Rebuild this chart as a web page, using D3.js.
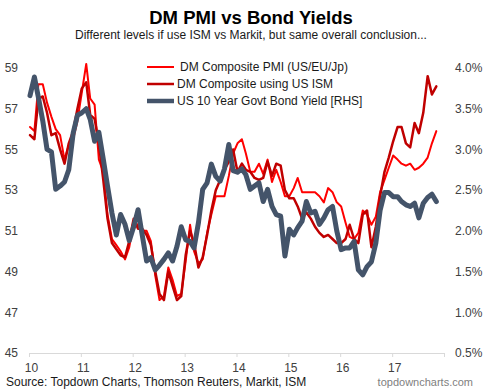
<!DOCTYPE html>
<html>
<head>
<meta charset="utf-8">
<script src="https://cdn.jsdelivr.net/npm/d3@7"></script>
<style>
	body { margin: 0; background: #fff; }
	text { font-family: "Liberation Sans", Arial, sans-serif; }
</style>
</head>
<body>
<div id="chart"></div>
<script>
const width = 490
const height = 392

// monthly data, Jan 2010 .. Nov 2017
const months = d3.timeMonths(new Date(2010, 0, 1), new Date(2017, 11, 1))
const yearLabels = ["10", "11", "12", "13", "14", "15", "16", "17"]
const leftTicks = [45, 47, 49, 51, 53, 55, 57, 59]
const rightTicks = [0.5, 1.0, 1.5, 2.0, 2.5, 3.0, 3.5, 4.0]
const seriesNames = ["DM Composite PMI (US/EU/Jp)", "DM Composite using US ISM", "US 10 Year Govt Bond Yield [RHS]"]

const pmiMarkit = [
	56.1, 55.9, 58.2, 58.2, 57.3, 56.6, 56.0, 55.7, 54.5, 55.2,
	55.5, 56.4, 57.8, 59.2, 57.5, 57.2, 54.5, 53.9, 51.8, 50.6,
	50.3, 50.0, 49.6, 50.2, 51.4, 51.3, 51.0, 51.0, 50.5, 48.8,
	47.6, 47.8, 49.2, 48.6, 47.8, 47.9, 49.5, 51.3, 50.0, 49.4,
	49.6, 50.9, 51.8, 52.7, 52.7, 52.7, 53.7, 54.8, 55.3, 55.5,
	54.8, 53.9, 53.9, 54.3, 53.8, 54.5, 53.4, 54.0, 53.4, 52.7,
	52.7, 53.1, 53.6, 52.9, 52.9, 52.9, 52.9, 52.7, 52.4, 53.1,
	52.9, 52.4, 52.2, 51.4, 50.7, 50.6, 50.9, 52.0, 51.8, 51.3,
	51.7, 52.9, 53.5, 54.1, 54.7, 54.5, 54.3, 54.2, 54.3, 54.0,
	54.1, 54.3, 54.6, 55.3, 55.9
]

const pmiIsm = [
	55.7, 55.5, 57.5, 57.6, 56.8, 55.7, 55.8, 55.0, 54.3, 55.3,
	55.9, 57.0, 58.0, 58.3, 56.7, 56.5, 55.3, 53.5, 51.6, 50.4,
	50.1, 49.8, 49.7, 50.5, 51.6, 51.1, 51.1, 50.8, 50.3, 49.0,
	47.9, 47.6, 49.0, 48.3, 47.6, 47.8, 49.8, 51.0, 50.4, 49.2,
	49.7, 50.8, 52.0, 53.0, 53.5, 54.0, 54.4, 55.0, 53.9, 54.3,
	54.0, 53.9, 53.6, 53.5, 53.6, 54.4, 53.7, 54.3, 54.2, 53.0,
	52.6, 52.6, 52.2, 51.6, 51.9, 51.6, 51.2, 50.9, 50.7, 50.8,
	50.6, 50.4, 50.4, 50.6, 51.3, 50.6, 50.4, 51.8, 52.0, 50.2,
	51.2, 52.7, 53.9, 54.6, 55.4, 56.1, 56.1, 55.3, 55.1, 56.3,
	55.8, 56.8, 58.6, 57.7, 58.1
]

const bondYield = [
	3.66, 3.89, 3.64, 3.35, 3.00, 2.97, 2.51, 2.55, 2.60, 2.75,
	3.20, 3.42, 3.45, 3.50, 3.37, 3.10, 3.21, 2.88, 2.55, 2.22,
	1.95, 2.20, 2.08, 1.88, 2.05, 2.26, 1.95, 1.63, 1.67, 1.52,
	1.58, 1.65, 1.73, 1.63, 1.81, 2.05, 1.89, 1.87, 1.79, 2.10,
	2.51, 2.59, 2.82, 2.67, 2.61, 2.76, 3.06, 2.74, 2.72, 2.76,
	2.69, 2.51, 2.55, 2.59, 2.36, 2.51, 2.30, 2.20, 2.18, 1.69,
	2.02, 1.95, 2.04, 2.12, 2.36, 2.22, 2.24, 2.08, 2.16, 2.26,
	2.30, 2.00, 1.77, 1.79, 1.79, 1.87, 1.52, 1.46, 1.56, 1.62,
	1.85, 2.25, 2.47, 2.47, 2.42, 2.42, 2.36, 2.32, 2.30, 2.34,
	2.16, 2.34, 2.41, 2.45, 2.36
]

const colors = ["#ff0000", "#c00000", "#44546a"]
const strokes = [2, 2.5, 5]

const svg = d3.select("#chart")
	.append("svg")
	.attr("width", width)
	.attr("height", height)

const x = d3.scaleTime()
	.domain([new Date(2010, 0, 1), new Date(2018, 0, 1)])
	.range([29, 444])

const yLeft = d3.scaleLinear().domain([45, 59]).range([353, 68])
const yRight = d3.scaleLinear().domain([0.5, 4.0]).range([353, 68])

// titles
svg.append("text")
	.attr("x", 251).attr("y", 24)
	.attr("text-anchor", "middle")
	.attr("font-size", "18.5px")
	.attr("font-weight", "bold")
	.attr("fill", "#000")
	.text("DM PMI vs Bond Yields")

svg.append("text")
	.attr("x", 251).attr("y", 39)
	.attr("text-anchor", "middle")
	.attr("font-size", "12px")
	.attr("fill", "#1a1a1a")
	.text("Different levels if use ISM vs Markit, but same overall conclusion...")

// axes
const years = d3.timeYears(new Date(2010, 0, 1), new Date(2018, 0, 2))

const xAxis = svg.append("g")
	.attr("transform", "translate(0,353)")
	.call(d3.axisBottom(x)
		.tickValues(years)
		.tickSize(4)
		.tickSizeOuter(0)
		.tickPadding(6)
		.tickFormat((d, i) => yearLabels[i] || ""))
xAxis.select(".domain").attr("stroke", "#d9d9d9")
xAxis.selectAll(".tick line").attr("stroke", "#d9d9d9")
xAxis.selectAll("text")
	.attr("font-size", "12px")
	.attr("fill", "#404040")
	.attr("dx", 2)

const leftAxis = svg.append("g")
	.attr("transform", "translate(29,0)")
	.call(d3.axisLeft(yLeft).tickValues(leftTicks).tickSize(0).tickPadding(11))
leftAxis.select(".domain").remove()
leftAxis.selectAll("text").attr("font-size", "12px").attr("fill", "#404040")

const rightAxis = svg.append("g")
	.attr("transform", "translate(444,0)")
	.call(d3.axisRight(yRight)
		.tickValues(rightTicks)
		.tickSize(0)
		.tickPadding(11)
		.tickFormat(d => d.toFixed(1) + "%"))
rightAxis.select(".domain").remove()
rightAxis.selectAll("text").attr("font-size", "12px").attr("fill", "#404040")

// lines
const midMonth = d => x(d3.timeDay.offset(d, 7))

const series = [
	{values: pmiMarkit, y: yLeft},
	{values: pmiIsm, y: yLeft},
	{values: bondYield, y: yRight}
]

series.forEach((s, i) => {
	const line = d3.line()
		.x((d, j) => midMonth(months[j]))
		.y(d => s.y(d))
	svg.append("path")
		.datum(s.values)
		.attr("fill", "none")
		.attr("stroke", colors[i])
		.attr("stroke-width", strokes[i])
		.attr("stroke-linejoin", "round")
		.attr("stroke-linecap", "round")
		.attr("d", line)
})

// legend
const legend = svg.append("g")
	.selectAll("g")
	.data(seriesNames)
	.join("g")
		.attr("transform", (d, i) => `translate(0,${67 + i * 17})`)

legend.append("line")
	.attr("x1", 147).attr("x2", 174)
	.attr("stroke", (d, i) => colors[i])
	.attr("stroke-width", (d, i) => i == 2 ? 4.5 : strokes[i])

legend.append("text")
	.attr("x", (d, i) => i == 0 ? 180 : 177)
	.attr("dy", "0.35em")
	.attr("font-size", "12px")
	.attr("fill", "#1a1a1a")
	.text(d => d)

// footer
svg.append("text")
	.attr("x", 6).attr("y", 386)
	.attr("font-size", "12px")
	.attr("fill", "#1a1a1a")
	.text("Source: Topdown Charts, Thomson Reuters, Markit, ISM")

svg.append("text")
	.attr("x", 473).attr("y", 386)
	.attr("text-anchor", "end")
	.attr("font-size", "11px")
	.attr("fill", "#808080")
	.text("topdowncharts.com")
</script>
</body>
</html>
